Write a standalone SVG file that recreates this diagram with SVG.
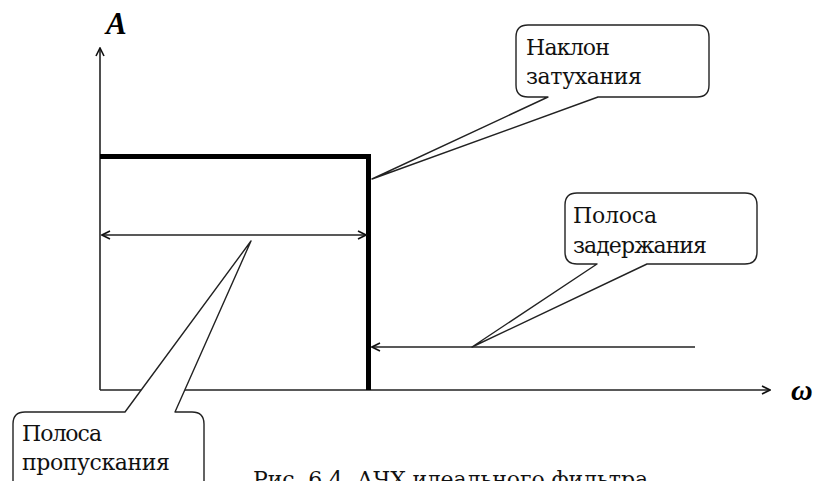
<svg xmlns="http://www.w3.org/2000/svg" width="819" height="481" viewBox="0 0 819 481">
<style>
.ax{stroke:#222;stroke-width:1.6;fill:none}
.thick{stroke:#000;stroke-width:5;fill:none}
.call{stroke:#222;stroke-width:1.4;fill:#fff;stroke-linejoin:round}
.t{font-family:"DejaVu Serif","Liberation Serif","Times New Roman",serif;font-size:22px;fill:#111}
.bi{font-family:"Liberation Serif","DejaVu Serif","Times New Roman",serif;font-weight:bold;font-style:italic;fill:#000}
</style>
<defs>
<marker id="ar" viewBox="0 0 10 10" refX="9" refY="5" markerWidth="10" markerHeight="10" markerUnits="userSpaceOnUse" orient="auto-start-reverse">
<path d="M1,1 L9,5 L1,9" fill="none" stroke="#111" stroke-width="1.6"/>
</marker>
</defs>
<rect width="819" height="481" fill="#fff"/>
<g id="axes">
<line class="ax" x1="100" y1="390" x2="100" y2="48" marker-end="url(#ar)"/>
<line class="ax" x1="100" y1="390" x2="770" y2="390" marker-end="url(#ar)"/>
<text class="bi" x="106" y="34" font-size="31">A</text>
<text class="bi" x="791" y="400" font-size="30">ω</text>
</g>
<g id="response">
<polyline class="thick" points="100,156.5 368.5,156.5 368.5,390"/>
</g>
<g id="connectors">
<line class="ax" x1="102" y1="235" x2="366" y2="235" marker-start="url(#ar)" marker-end="url(#ar)"/>
<line class="ax" x1="695" y1="347" x2="372" y2="347" marker-end="url(#ar)"/>
</g>
<g id="callout-slope">
<path class="call" d="M548,97 L528,97 Q516,97 516,85 L516,37 Q516,25 528,25 L697,25 Q709,25 709,37 L709,85 Q709,97 697,97 L598,97 L372,179 Z"/>
<text class="t" x="526" y="55" textLength="84" lengthAdjust="spacing">Наклон</text>
<text class="t" x="526" y="84" textLength="116" lengthAdjust="spacing">затухания</text>
</g>
<g id="callout-stop">
<path class="call" d="M597,264 L577,264 Q565,264 565,252 L565,205 Q565,193 577,193 L745,193 Q757,193 757,205 L757,252 Q757,264 745,264 L647,264 L472,347 Z"/>
<text class="t" x="573" y="223" textLength="84" lengthAdjust="spacing">Полоса</text>
<text class="t" x="573" y="253" textLength="134" lengthAdjust="spacing">задержания</text>
</g>
<g id="callout-pass">
<path class="call" d="M125,412 L25,412 Q13,412 13,424 L13,500 L204,500 L204,424 Q204,412 192,412 L175,412 L251,241 Z"/>
<text class="t" x="22" y="441" textLength="80" lengthAdjust="spacing">Полоса</text>
<text class="t" x="22" y="470" textLength="148" lengthAdjust="spacing">пропускания</text>
</g>
<g id="caption">
<text class="t" x="253" y="487" textLength="395" lengthAdjust="spacing">Рис. 6.4. АЧХ идеального фильтра</text>
</g>
</svg>
